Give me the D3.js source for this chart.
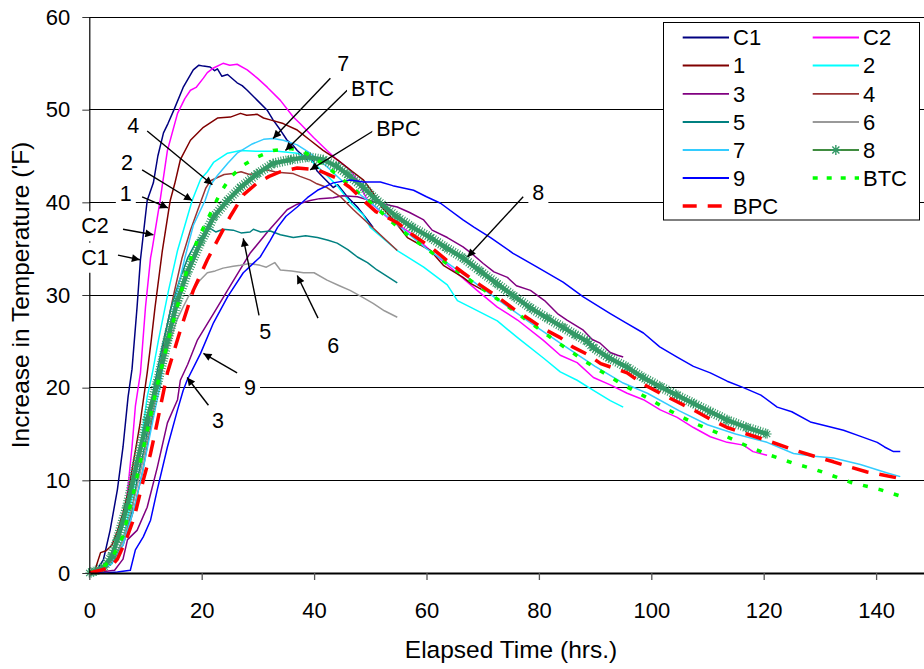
<!DOCTYPE html>
<html><head><meta charset="utf-8">
<script src="https://cdn.jsdelivr.net/npm/d3@7"></script>
<style>
body{margin:0;background:#fff}
svg{display:block}
text{font-family:"Liberation Sans",Arial,Helvetica,sans-serif;fill:#000}
</style>
</head><body>
<svg id="chart" width="924" height="669"></svg>
<script>
// ---------------- DATA ----------------
const xTicks = [0,20,40,60,80,100,120,140];
const yTicks = [0,10,20,30,40,50,60];
const xTitle = "Elapsed Time (hrs.)";
const yTitle = "Increase in Temperature ('F)";
const seriesNames = ["C1","C2","1","2","3","4","5","6","7","8","9","BTC","BPC"];

// [elapsed hours, temperature increase]
const C1 = [[0,0],[1.5,0.5],[2.5,1.4],[3.7,4.6],[5,9],[6,13.6],[6.9,19],[7.6,22],[8.5,28.7],[9.1,33.8],[10.3,40.2],[11.4,42.1],[12.2,45],[13.2,47.5],[14,48.5],[15,49.9],[16.7,52.4],[18.5,54.3],[19.5,54.8],[20.3,54.7],[21.5,54.6],[22.3,54.2],[22.8,54.4],[23.6,53.6],[24.6,53.8],[26.3,52.9],[27.2,52.6],[28.1,52.1],[29.9,51.0],[31.7,49.9],[32.7,48.9],[34,47.8],[35.2,46.7],[36.2,46.2],[37,45.6],[38.8,44.6],[39.5,44.9],[40.5,43.4],[41.6,42.7],[43.4,41.6],[44.2,41.9],[45.9,40.6],[47.7,39.5],[49.5,38.1],[50.5,37.3]];
const C2 = [[0,0],[2,0.3],[3,0.8],[4.1,1.4],[5.5,4.6],[6.7,8.2],[7.6,13.6],[8.2,18],[9.1,21.6],[10,28.7],[10.9,34],[11.2,35],[12.6,40.2],[13.9,45.6],[15.7,49.6],[17,51.2],[18,52.1],[19,52.4],[20.3,53.4],[21,54],[22.1,54.5],[23.8,55.0],[25,54.8],[26.3,54.9],[28.1,54.3],[29.9,53.4],[31.7,52.4],[34,51],[36.3,49.2],[37.5,48.5],[39.9,47],[42.3,45.6],[44.1,44.6],[46.4,43.5],[47.7,42.4],[49.5,40.2],[53,38.4],[57.1,36.7],[60.7,34.8],[64.2,33],[69,30.5],[72.6,28.7],[76.2,27.3],[80.8,25.1],[83.8,23.5],[86.8,22.7],[89.7,21.1],[92.7,20.3],[95.7,19.4],[98.6,18.7],[101.6,17.6],[104.6,16.8],[107.5,15.7],[110.5,14.7],[113.5,14.1],[116.4,13.8],[118.1,13.1],[120.6,12.7]];
const S1 = [[0,0],[1,0.3],[2,2.2],[3,2.4],[4,3],[5,4.5],[6,6.5],[7,9],[8,12.5],[9,16],[10.3,21.6],[11,25],[11.7,28.7],[13,34.8],[14.4,40.2],[15.2,42],[16.2,44.6],[18,46.7],[20.3,48.1],[22.8,49.1],[25.1,49.2],[26.9,49.6],[28,49.4],[29.9,49.5],[31,49.1],[32.2,48.9],[34.5,48.5],[37,47.8],[39.3,46.7],[41.6,45.6],[44.1,44.6],[46.4,43.5],[48.8,42.4],[50.5,41],[52,39.5],[54,38.2],[56.6,36.2],[60.7,34.8],[63,33.2],[66.5,31.9],[68,31.2],[70.1,30.5]];
const S2 = [[0,0],[2,0.3],[4,1],[6,3.6],[7.6,8.2],[9.1,13.6],[10.3,19],[11.2,21.5],[12.3,25.1],[14.1,30.5],[15.7,34.8],[17,37.5],[18.3,40.2],[19.8,42.5],[21,43.3],[22.1,44.3],[24.6,45.3],[26.9,45.6],[29.9,45.5],[33.5,45.5],[37,45.3],[39.3,44.6],[41.6,43.3],[44.1,41.8],[46.4,40],[48.8,38.6],[50,37.3],[54.8,34.8],[59.5,33],[63.7,31.1],[65.5,29.4],[67.8,28.7],[72.6,27.2],[76.2,25.4],[80.8,23.2],[83.8,21.7],[86.8,20.8],[89.7,19.7],[92.7,18.6],[95,17.9]];
const S3 = [[0,0],[2,0.1],[4.5,0.3],[6,1.5],[6.8,3.6],[8.5,4.6],[10.3,7.1],[12.1,11.4],[13.9,16.2],[15.7,18.7],[16.2,20.8],[17.5,22.5],[19.2,25.1],[22.1,28],[25.1,31],[28.6,34.5],[31.7,36.8],[35.2,39.2],[37,39.8],[39.3,40.2],[41,40.4],[43.4,40.5],[45,40.7],[47.7,40.6],[51,40],[54.8,39.5],[57,38.9],[59.5,38.1],[61,37],[63.7,36.2],[66.5,35.2],[68,34.5],[70.1,33.4],[72,32.5],[74.4,31.9],[76,31],[78.5,30.5],[81,29.4],[83.3,28],[85,27.3],[87.9,26.2],[89.5,25.2],[90.9,24.8],[92.7,23.8],[94,23.5],[95,23.3]];
const S4 = [[0,0],[2,0.5],[4,1.2],[6,3],[8,7],[9.5,11],[11,16],[12.3,21],[13.3,25.1],[15,30],[16.5,34],[18,37],[19.8,40],[20.7,41.5],[21.5,42.3],[22.5,42.6],[24,43],[25.6,43.1],[27,43.3],[28.5,43],[29.9,43.2],[31.7,43.5],[33,43.3],[34.5,43.2],[36.3,43.1],[37.5,42.8],[39.3,42.4],[40.5,42],[42.3,41.6],[44.7,40.6],[47,39.2],[49.5,37.8],[52.3,36.2],[54.8,34.8]];
const S5 = [[0,0],[2,0.3],[4,1.2],[6,3.5],[7.5,6.5],[8.5,10],[10,14],[11.5,20],[13,24.5],[14.5,28.5],[16,31.5],[17.5,34],[19,35.7],[20.5,36.6],[21.5,37.2],[22.5,36.8],[23.8,37.1],[25.6,37],[27,36.7],[28.6,36.8],[29.2,37.1],[30.5,36.8],[32.2,36.9],[34,36.5],[36.3,36.2],[38.5,36.4],[40.6,36.2],[42.5,35.9],[44.1,35.6],[46,34.9],[47.7,34.1],[49.5,33.5],[51.2,32.7],[53,32],[54.8,31.3]];
const S6 = [[0,0],[2,0.3],[4,1.2],[6,3.5],[8,8],[9.5,12],[10.8,16],[12.1,19.7],[13.2,22.5],[14.4,25.1],[15.5,27.2],[16.7,28.7],[17.6,29.8],[18.5,30.5],[19.7,31.6],[21,32.4],[22.4,32.6],[23.8,32.9],[25.6,33.1],[26.9,33.2],[28.5,33.4],[30.4,33.2],[31.5,33.0],[33,33.5],[34,32.7],[36,32.6],[38.1,32.4],[40,32.4],[42.3,31.6],[44.5,31],[46.4,30.5],[48.5,29.8],[50.5,29.1],[52.5,28.3],[54.8,27.6]];
const S7 = [[0,0],[2,0.2],[4,1],[6,3],[8,7],[9.5,11],[11,15.5],[12.5,20],[13.8,25],[15.5,30],[17,34],[18.5,37.5],[20.6,40.2],[21.5,41.8],[22.8,42.9],[24.6,44.2],[26.3,45.3],[29,46.3],[31,46.8],[32.7,46.9],[34.5,46.7],[37,46.2],[39.3,45.3],[42,44],[45,42.3],[50,40],[55,37.5],[60,35],[66,32.5],[72,29.8],[78,27.2],[83.8,24.8],[90,22.3],[95,20.5],[99.3,19.4],[105,17.5],[110,16],[115,15],[120.6,14.1],[125.3,12.9],[129,12.6],[132.4,12.4],[137.2,11.7],[142,10.8],[144.3,10.4]];
const S8 = [[0,0],[1,0.2],[2.5,0.6],[4,1.8],[5,3.6],[6.7,7.1],[8.5,11.9],[10.3,16.5],[12.1,20.5],[13.9,25.1],[15.7,29.4],[17.4,32.4],[19.8,35.7],[22.1,38.4],[24.6,40.2],[26.9,41.6],[29.9,43.1],[32.7,44.2],[35.8,44.6],[38.8,44.9],[41.6,44.6],[44,43.9],[46,43],[48.8,41.6],[51,40.3],[54.8,38.4],[57.5,37.3],[60.7,36.2],[63.5,35.1],[66.5,34],[69.5,32.6],[72.6,31.2],[75.5,29.9],[78.5,28.6],[81.5,27.5],[84.3,26.5],[86.5,25.7],[88.6,25],[89.7,24.3],[92.5,23.2],[95.7,22.2],[98.5,21.1],[101.6,20.1],[104.5,19.2],[107.5,18.3],[110.5,17.4],[113.5,16.5],[117,15.7],[120.6,15.0]];
const S9 = [[0,0],[3,0],[5,0.1],[7.3,0.3],[8.2,2.5],[9.6,3.9],[10.9,5.7],[12.1,9],[13.9,13.6],[15.7,17.6],[16.7,19.7],[17.4,20.8],[19.8,23.7],[22.1,27],[24.6,29.8],[27.4,32.4],[30.4,34.1],[32.2,35.9],[33.5,37.3],[35,38.5],[37,39.5],[38.8,40.5],[40.6,41.3],[43.4,42.1],[46.4,42.4],[48.8,42.2],[51.8,42.2],[54,41.8],[57.7,41.3],[60,40.6],[62.5,39.9],[66.5,38.1],[68.5,37.3],[71.4,36.2],[75.4,34.5],[79.7,33],[84.3,31.4],[87.9,29.8],[92.7,28],[95.5,27],[98.6,25.9],[101.5,24.4],[104.6,23.3],[107.5,22.3],[110.5,21.6],[113.5,20.7],[116.4,20],[119.5,19.2],[122.4,17.9],[125,17.4],[128.3,16.3],[131,15.9],[134.2,15.4],[137,14.8],[140.2,14.1],[141.5,13.6],[143.1,13.1],[144.3,13.1]];
const BTC = [[0,0],[2,0.4],[4,1.5],[6,4],[8,9],[10,14.5],[12,20],[14,25],[16,29.5],[17.5,33],[19.2,35.9],[21,38.1],[23.3,41],[25.1,42.7],[27.4,44],[29.9,44.9],[32.7,45.6],[35.8,45.8],[38,45.5],[40,44.8],[43,43.5],[46,42],[50,40],[54,37.8],[57,36.3],[60,35],[64,33.2],[68,31.5],[73.7,29.1],[78.5,27],[83.5,24.8],[88.6,22.7],[91.5,21.6],[95,20.3],[99.3,18.9],[103,17.6],[107.5,16.2],[113.5,14.7],[117,13.7],[121.2,12.7],[125,11.9],[129.5,11.1],[135.4,9.8],[140.7,9.0],[144.3,8.3]];
const BPC = [[0,0],[2,0.3],[3.7,0.6],[5,1.5],[6.5,3.5],[8,6],[9.6,10],[10.9,12.9],[12,16],[13.9,21.6],[16.2,26.2],[18.5,30.5],[21,33.8],[22.8,35.9],[25.1,38.5],[27.4,40.8],[29.9,42.1],[32,42.8],[34,43.3],[37,43.7],[40.6,43.5],[44.1,42.6],[46.4,41.6],[48.8,40.2],[51,39],[54.8,37.8],[57.5,36.5],[60.7,35.2],[63.5,33.8],[66.5,32.4],[69.5,31.1],[72.6,29.8],[75.5,28.5],[78.5,27.3],[81,26.3],[83.8,25.4],[86,24.4],[88.6,23.6],[91,22.6],[95.7,21.6],[98.5,20.4],[101.6,19.4],[104.5,18.5],[107.5,17.6],[110.5,16.6],[113.5,15.7],[117,15],[120.6,14.3],[125.3,13.3],[129,12.6],[132.4,12],[135,11.5],[138.4,10.9],[141,10.6],[144.3,10.2]];

// annotation labels: text, label anchor, arrow tail, arrow tip (data units)
const annotations = [
  {text:"7",   at:[45.2,55.0], from:[42.9,53.4], to:[32.7,46.9]},
  {text:"BTC", at:[50.4,52.3], from:[45.9,52.1], to:[34.9,45.6]},
  {text:"BPC", at:[55.0,48.0], from:[50.5,47.7], to:[39.3,43.5]},
  {text:"8",   at:[79.9,41.1], from:[77.2,40.6], to:[67.3,34.1]},
  {text:"4",   at:[7.8,48.3],  from:[10.3,47.7], to:[21.9,41.9]},
  {text:"2",   at:[6.7,44.3],  from:[9.4,43.5],  to:[18.3,40.2]},
  {text:"1",   at:[6.5,41.0],  from:[9.4,40.6],  to:[14.0,39.4]},
  {text:"C2",  at:[1.0,37.5],  from:[6.0,37.1],  to:[11.4,36.5]},
  {text:"C1",  at:[1.0,34.1],  from:[5.1,34.3],  to:[9.0,33.8]},
  {text:"5",   at:[31.3,26.1], from:[30.2,27.8], to:[27.4,36.1]},
  {text:"6",   at:[43.4,24.6], from:[40.7,27.5], to:[37.0,32.1]},
  {text:"9",   at:[28.6,20.0], from:[26.3,21.6], to:[20.3,23.7]},
  {text:"3",   at:[22.9,16.5], from:[21.2,18.1], to:[17.4,21.1]}
];

// ---------------- STYLE ----------------
const seriesData = {"C1":C1,"C2":C2,"1":S1,"2":S2,"3":S3,"4":S4,"5":S5,"6":S6,"7":S7,"8":S8,"9":S9,"BTC":BTC,"BPC":BPC};
const styles = {
  "C1":{color:"#000080",w:1.5},
  "C2":{color:"#FF00FF",w:1.5},
  "1":{color:"#800000",w:1.5},
  "2":{color:"#00FFFF",w:1.5},
  "3":{color:"#800080",w:1.5},
  "4":{color:"#993333",w:1.5},
  "5":{color:"#008080",w:1.5},
  "6":{color:"#999999",w:1.5},
  "7":{color:"#33CCFF",w:1.5},
  "8":{color:"#339966",w:5,star:true},
  "9":{color:"#0000FF",w:1.5},
  "BTC":{color:"#00FF00",w:3.5,dash:"5,11"},
  "BPC":{color:"#FF0000",w:3.5,dash:"17,11"}
};

const W=924,H=669;
const x0=89.3, pxPerHr=5.62;
const x = d3.scaleLinear().domain([0,150]).range([x0, x0+150*pxPerHr]);
const y = d3.scaleLinear().domain([0,60]).range([573,17]);

const svg = d3.select("#chart");
svg.append("defs").append("clipPath").attr("id","plotclip")
  .append("rect").attr("x",x0-4).attr("y",0).attr("width",W-x0+4).attr("height",578);

// gridlines
svg.append("g").selectAll("line").data(yTicks.filter(d=>d>0)).join("line")
  .attr("x1",x0).attr("x2",W).attr("y1",d=>y(d)).attr("y2",d=>y(d))
  .attr("stroke","#000").attr("stroke-width",1).attr("shape-rendering","crispEdges");

// series
const line = d3.line().x(d=>x(d[0])).y(d=>y(d[1]));
const plot = svg.append("g").attr("clip-path","url(#plotclip)");
function starPath(cx,cy,r){
  const a=r*0.7071;
  return `M${cx-r},${cy}L${cx+r},${cy}M${cx},${cy-r}L${cx},${cy+r}M${cx-a},${cy-a}L${cx+a},${cy+a}M${cx-a},${cy+a}L${cx+a},${cy-a}`;
}
seriesNames.forEach(name=>{
  const d=seriesData[name], s=styles[name];
  if(s.star){
    plot.append("path").datum(d).attr("d",line).attr("fill","none")
      .attr("stroke",s.color).attr("stroke-width",4.5).attr("stroke-linejoin","round");
    plot.append("path").datum(d).attr("d",line).attr("fill","none")
      .attr("stroke",s.color).attr("stroke-width",10).attr("stroke-dasharray","1,1.6");
    plot.append("g").selectAll("path").data(d).join("path")
      .attr("d",p=>starPath(x(p[0]),y(p[1]),4.5))
      .attr("stroke",s.color).attr("stroke-width",1.2).attr("fill","none");
  } else {
    plot.append("path").datum(d).attr("d",line).attr("fill","none")
      .attr("stroke",s.color).attr("stroke-width",s.w)
      .attr("stroke-linejoin","round")
      .attr("stroke-dasharray",s.dash||null);
  }
});

// axes
const xAxis = d3.axisBottom(x).tickValues(xTicks).tickSize(7).tickPadding(22).tickSizeOuter(0);
const gx = svg.append("g").attr("transform","translate(0,573)").call(xAxis);
gx.select(".domain").attr("d",`M${x0},0.5H${W}`).attr("stroke","#000").attr("stroke-width",2.2);
gx.selectAll(".tick line").attr("stroke","#555").attr("stroke-width",1.3);
gx.selectAll(".tick text").attr("font-size","22px").attr("fill","#000");

const yAxis = d3.axisLeft(y).tickValues(yTicks).tickSize(7).tickPadding(12).tickSizeOuter(0);
const gy = svg.append("g").attr("transform",`translate(${x0},0)`).call(yAxis);
gy.select(".domain").attr("stroke","#000").attr("stroke-width",1.2);
gy.selectAll(".tick line").attr("stroke","#333");
gy.selectAll(".tick text").attr("font-size","22px").attr("fill","#000");

// axis titles
svg.append("text").attr("x",511).attr("y",658).attr("text-anchor","middle")
  .attr("font-size","24.5px").text(xTitle);
svg.append("text").attr("transform","translate(29,295) rotate(-90)").attr("text-anchor","middle")
  .attr("font-size","24.5px").text(yTitle);

// annotations
const ann = svg.append("g");
svg.select("defs").append("marker").attr("id","arrowhead")
  .attr("viewBox","0 0 10 10").attr("refX",10).attr("refY",5)
  .attr("markerWidth",11).attr("markerHeight",8).attr("markerUnits","userSpaceOnUse")
  .attr("orient","auto")
  .append("path").attr("d","M0,0L10,5L0,10Z").attr("fill","#000");
annotations.forEach(a=>{
  ann.append("line")
    .attr("x1",x(a.from[0])).attr("y1",y(a.from[1]))
    .attr("x2",x(a.to[0])).attr("y2",y(a.to[1]))
    .attr("stroke","#000").attr("stroke-width",1.4)
    .attr("marker-end","url(#arrowhead)");
});
annotations.forEach(a=>{
  const t = ann.append("text").attr("x",x(a.at[0])).attr("y",y(a.at[1]))
    .attr("dy","0.36em").attr("text-anchor","middle").attr("font-size","21.5px").text(a.text);
  const b = t.node().getBBox();
  ann.insert("rect", function(){return t.node();})
    .attr("x",b.x-4).attr("y",b.y-3).attr("width",b.width+8).attr("height",b.height+6)
    .attr("fill","#fff");
});

// legend
const leg = svg.append("g");
leg.append("rect").attr("x",663.5).attr("y",22.5).attr("width",256).attr("height",197.5)
  .attr("fill","#fff").attr("stroke","#000").attr("stroke-width",1);
const rowY=[37.5,65.5,93.8,122,150,178,206];
seriesNames.forEach((name,i)=>{
  const col=i%2, row=Math.floor(i/2);
  const lx1 = col===0?682.7:812.7, lx2 = col===0?729:859;
  const ly=rowY[row], s=styles[name];
  const g=leg.append("g");
  if(s.star){
    g.append("line").attr("x1",lx1).attr("x2",lx2).attr("y1",ly).attr("y2",ly)
      .attr("stroke","#006600").attr("stroke-width",1.6);
    g.append("path").attr("d",starPath((lx1+lx2)/2,ly,5)).attr("stroke",s.color)
      .attr("stroke-width",1.4).attr("fill","none");
  } else {
    g.append("line").attr("x1",lx1).attr("x2",lx2).attr("y1",ly).attr("y2",ly)
      .attr("stroke",s.color).attr("stroke-width",s.dash?3.5:1.8)
      .attr("stroke-dasharray",s.dash?(name==="BTC"?"5,9":"14,11"):null);
  }
  g.append("text").attr("x",lx2+4).attr("y",ly).attr("dy","0.36em")
    .attr("font-size","22px").text(name);
});
</script>
</body></html>
